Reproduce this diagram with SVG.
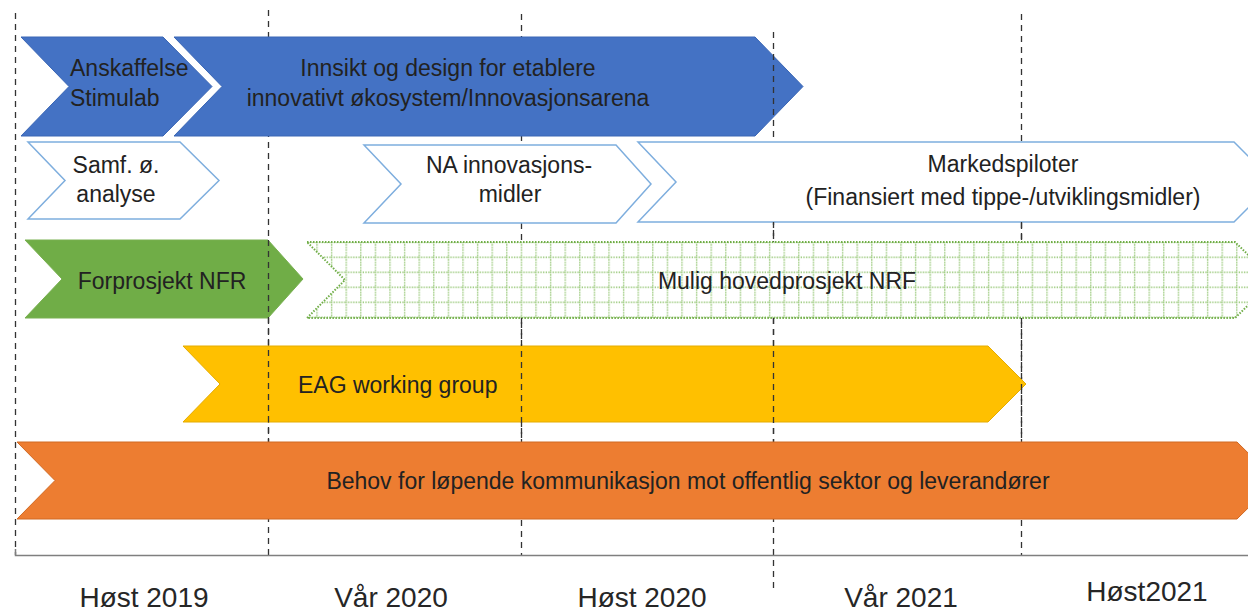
<svg xmlns="http://www.w3.org/2000/svg" width="1248" height="611" viewBox="0 0 1248 611">
<style>
text{font-family:"Liberation Sans",Arial,sans-serif;fill:#222;}
.t{font-size:23px;}
.lbl{font-size:28px;fill:#262626;}
.blue{fill:#4472C4;stroke:#3A66B5;stroke-width:1;}
.white{fill:#fff;stroke:#7EAEDE;stroke-width:1.5;}
.green{fill:#70AD47;stroke:#78B050;stroke-width:1;}
.pat{fill:url(#grid);stroke:#70AD47;stroke-width:2;stroke-dasharray:1.5 1.5;}
.yellow{fill:#FFC000;stroke:#E5AC00;stroke-width:1;}
.orange{fill:#ED7D31;stroke:#D06A25;stroke-width:1;}
.grid line{stroke:#333;stroke-width:1.3;stroke-dasharray:6 5;}
</style>
<defs>
<pattern id="grid" patternUnits="userSpaceOnUse" x="389.3" y="241.6" width="14.6" height="15">
<rect width="14.6" height="15" fill="#fff"/>
<path d="M0.7,0 V15 M0,0.7 H14.6" stroke="#7DBA55" stroke-width="1.3" stroke-dasharray="1.3 1.3" fill="none"/>
</pattern>
</defs>

<g id="gridlines-back" class="grid">
<line x1="268.5" y1="10" x2="268.5" y2="555"/>
<line x1="521.5" y1="14" x2="521.5" y2="555"/>
</g>

<g id="anskaffelse">
<path class="blue" d="M21,37 H163 L212,86.5 L163,136 H21 L69,86.5 Z"/>
<text class="t" x="70" y="76">Anskaffelse</text>
<text class="t" x="70" y="106">Stimulab</text>
</g>
<g id="innsikt">
<path class="blue" d="M174,37 H755 L803,86.5 L755,136 H174 L222,86.5 Z"/>
<text class="t" x="448" y="76" text-anchor="middle">Innsikt og design for etablere</text>
<text class="t" x="448" y="106" text-anchor="middle">innovativt økosystem/Innovasjonsarena</text>
</g>

<g id="gridlines-front" class="grid">
<line x1="15.5" y1="13" x2="15.5" y2="555"/>
<line x1="773.5" y1="32" x2="773.5" y2="588"/>
<line x1="1021.5" y1="14" x2="1021.5" y2="555"/>
</g>

<g id="samf">
<path class="white" d="M28,142 H180 L219,180.5 L180,219 H28 L65,180.5 Z"/>
<text class="t" x="116" y="173" text-anchor="middle">Samf. ø.</text>
<text class="t" x="116" y="202" text-anchor="middle">analyse</text>
</g>
<g id="na">
<path class="white" d="M364,145 H616 L651,184 L616,223 H364 L401,184 Z"/>
<text class="t" x="509" y="173" text-anchor="middle">NA innovasjons-</text>
<text class="t" x="510" y="202" text-anchor="middle">midler</text>
</g>
<g id="markedspiloter">
<path class="white" d="M638,142 H1234 L1274,182 L1234,222 H638 L676,182 Z"/>
<text class="t" x="1003" y="172" text-anchor="middle">Markedspiloter</text>
<text class="t" x="1003" y="205" text-anchor="middle">(Finansiert med tippe-/utviklingsmidler)</text>
</g>

<g id="forprosjekt">
<path class="green" d="M25,240 H268 L303,279 L268,318 H25 L62,279 Z"/>
<text class="t" x="162" y="289" text-anchor="middle">Forprosjekt NFR</text>
</g>
<g id="hovedprosjekt">
<path class="pat" d="M307,242 H1235 L1274,280 L1235,318 H307 L345,280 Z"/>
<text class="t" x="787" y="289" text-anchor="middle">Mulig hovedprosjekt NRF</text>
</g>

<g id="eag">
<path class="yellow" d="M183,346 H988 L1026,384 L988,422 H183 L220,384 Z"/>
<text class="t" x="298" y="393">EAG working group</text>
</g>

<g id="gridlines-mid" class="grid">
<line x1="268.5" y1="240" x2="268.5" y2="442"/>
<line x1="521.5" y1="318" x2="521.5" y2="442"/>
<line x1="773.5" y1="222" x2="773.5" y2="242"/>
<line x1="773.5" y1="318" x2="773.5" y2="442"/>
<line x1="1021.5" y1="222" x2="1021.5" y2="242"/>
<line x1="1021.5" y1="318" x2="1021.5" y2="442"/>
</g>

<g id="behov">
<path class="orange" d="M17,442 H1237 L1276,480.5 L1237,519 H17 L55,480.5 Z"/>
<text class="t" x="688" y="489" text-anchor="middle">Behov for løpende kommunikasjon mot offentlig sektor og leverandører</text>
</g>

<g id="axis">
<path d="M15.5,549 V555.5 H1248" fill="none" stroke="#7F7F7F" stroke-width="1.5"/>
<text class="lbl" x="144" y="607" text-anchor="middle">Høst 2019</text>
<text class="lbl" x="391" y="607" text-anchor="middle">Vår 2020</text>
<text class="lbl" x="642" y="607" text-anchor="middle">Høst 2020</text>
<text class="lbl" x="901" y="607" text-anchor="middle">Vår 2021</text>
<text class="lbl" x="1147" y="601" text-anchor="middle">Høst2021</text>
</g>
</svg>
